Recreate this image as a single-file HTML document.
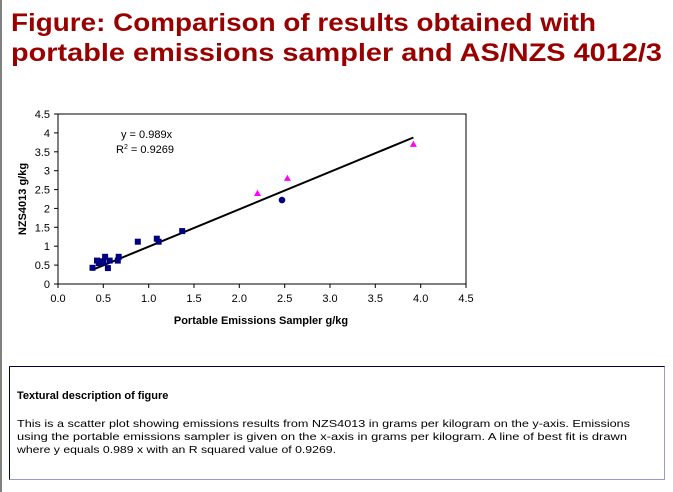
<!DOCTYPE html>
<html><head><meta charset="utf-8"><style>
html,body{margin:0;padding:0;background:#fff;}
body{width:673px;height:492px;position:relative;overflow:hidden;font-family:"Liberation Sans",sans-serif;}
</style></head><body>
<svg width="673" height="492" viewBox="0 0 673 492" style="position:absolute;left:0;top:0" font-family="Liberation Sans, sans-serif">
<rect x="0" y="0" width="2" height="492" fill="#808080"/>
<text x="11" y="31" font-size="25" font-weight="bold" fill="#990000" textLength="585" lengthAdjust="spacingAndGlyphs">Figure: Comparison of results obtained with</text>
<text x="11" y="61" font-size="25" font-weight="bold" fill="#990000" textLength="651" lengthAdjust="spacingAndGlyphs">portable emissions sampler and AS/NZS 4012/3</text>
<rect x="58" y="114" width="408" height="170" fill="none" stroke="#000" stroke-width="1"/>
<g stroke="#000" stroke-width="1">
<line x1="54" y1="114" x2="58" y2="114"/><line x1="54" y1="132.9" x2="58" y2="132.9"/><line x1="54" y1="151.8" x2="58" y2="151.8"/><line x1="54" y1="170.7" x2="58" y2="170.7"/><line x1="54" y1="189.6" x2="58" y2="189.6"/><line x1="54" y1="208.4" x2="58" y2="208.4"/><line x1="54" y1="227.3" x2="58" y2="227.3"/><line x1="54" y1="246.2" x2="58" y2="246.2"/><line x1="54" y1="265.1" x2="58" y2="265.1"/><line x1="54" y1="284" x2="58" y2="284"/>
<line x1="58" y1="284" x2="58" y2="288"/><line x1="103.3" y1="284" x2="103.3" y2="288"/><line x1="148.7" y1="284" x2="148.7" y2="288"/><line x1="194" y1="284" x2="194" y2="288"/><line x1="239.3" y1="284" x2="239.3" y2="288"/><line x1="284.7" y1="284" x2="284.7" y2="288"/><line x1="330" y1="284" x2="330" y2="288"/><line x1="375.3" y1="284" x2="375.3" y2="288"/><line x1="420.7" y1="284" x2="420.7" y2="288"/><line x1="466" y1="284" x2="466" y2="288"/>
</g>
<g font-size="11" text-anchor="end" fill="#000">
<text x="50" y="118">4.5</text><text x="50" y="136.9">4</text><text x="50" y="155.8">3.5</text><text x="50" y="174.7">3</text><text x="50" y="193.6">2.5</text><text x="50" y="212.4">2</text><text x="50" y="231.3">1.5</text><text x="50" y="250.2">1</text><text x="50" y="269.1">0.5</text><text x="50" y="288">0</text>
</g>
<g font-size="11" text-anchor="middle" fill="#000">
<text x="58" y="302">0.0</text><text x="103.3" y="302">0.5</text><text x="148.7" y="302">1.0</text><text x="194" y="302">1.5</text><text x="239.3" y="302">2.0</text><text x="284.7" y="302">2.5</text><text x="330" y="302">3.0</text><text x="375.3" y="302">3.5</text><text x="420.7" y="302">4.0</text><text x="466" y="302">4.5</text>
</g>
<text x="261" y="324" font-size="11" font-weight="bold" text-anchor="middle">Portable Emissions Sampler  g/kg</text>
<text transform="translate(26,199) rotate(-90)" font-size="11" font-weight="bold" text-anchor="middle">NZS4013 g/kg</text>
<text x="121" y="138" font-size="11">y = 0.989x</text>
<text x="116" y="153" font-size="11">R<tspan font-size="7" dy="-4">2</tspan><tspan dy="4"> = 0.9269</tspan></text>
<line x1="92.5" y1="269.8" x2="413.4" y2="137.5" stroke="#000" stroke-width="2"/>
<g fill="#000080">
<rect x="89.5" y="264.8" width="6" height="6"/><rect x="94" y="257.6" width="6" height="6"/><rect x="95.8" y="260.2" width="6" height="6"/><rect x="97.6" y="258.3" width="6" height="6"/><rect x="100.3" y="259.1" width="6" height="6"/><rect x="102.1" y="253.8" width="6" height="6"/><rect x="104.9" y="265.1" width="6" height="6"/><rect x="106.7" y="257.6" width="6" height="6"/><rect x="114.8" y="257.6" width="6" height="6"/><rect x="115.7" y="253.8" width="6" height="6"/><rect x="134.8" y="238.7" width="6" height="6"/><rect x="153.8" y="235.7" width="6" height="6"/><rect x="155.6" y="238.7" width="6" height="6"/><rect x="179.2" y="228.1" width="6" height="6"/>
<circle cx="282" cy="200.1" r="3.3"/>
</g>
<g fill="#ff00ff">
<polygon points="257.5,189.8 261,196 254,196"/><polygon points="287.4,174.7 290.9,180.9 283.9,180.9"/><polygon points="413.4,140.7 416.9,146.9 409.9,146.9"/>
</g>
<rect x="9.5" y="366.5" width="655" height="113" fill="none" stroke="#9999cc" stroke-width="1"/>
<line x1="9.5" y1="366.5" x2="664.5" y2="366.5" stroke="#000040" stroke-width="1"/>
<line x1="9.5" y1="366.5" x2="9.5" y2="479.5" stroke="#000040" stroke-width="1"/>
<text x="17" y="399" font-size="11" font-weight="bold">Textural description of figure</text>
<g font-size="10.5" fill="#000">
<text x="17" y="427" textLength="613" lengthAdjust="spacingAndGlyphs">This is a scatter plot showing emissions results from NZS4013 in grams per kilogram on the y-axis. Emissions</text>
<text x="17" y="440" textLength="610" lengthAdjust="spacingAndGlyphs">using the portable emissions sampler is given on the x-axis in grams per kilogram. A line of best fit is drawn</text>
<text x="17" y="453" textLength="319" lengthAdjust="spacingAndGlyphs">where y equals 0.989 x with an R squared value of 0.9269.</text>
</g>
</svg>
</body></html>
